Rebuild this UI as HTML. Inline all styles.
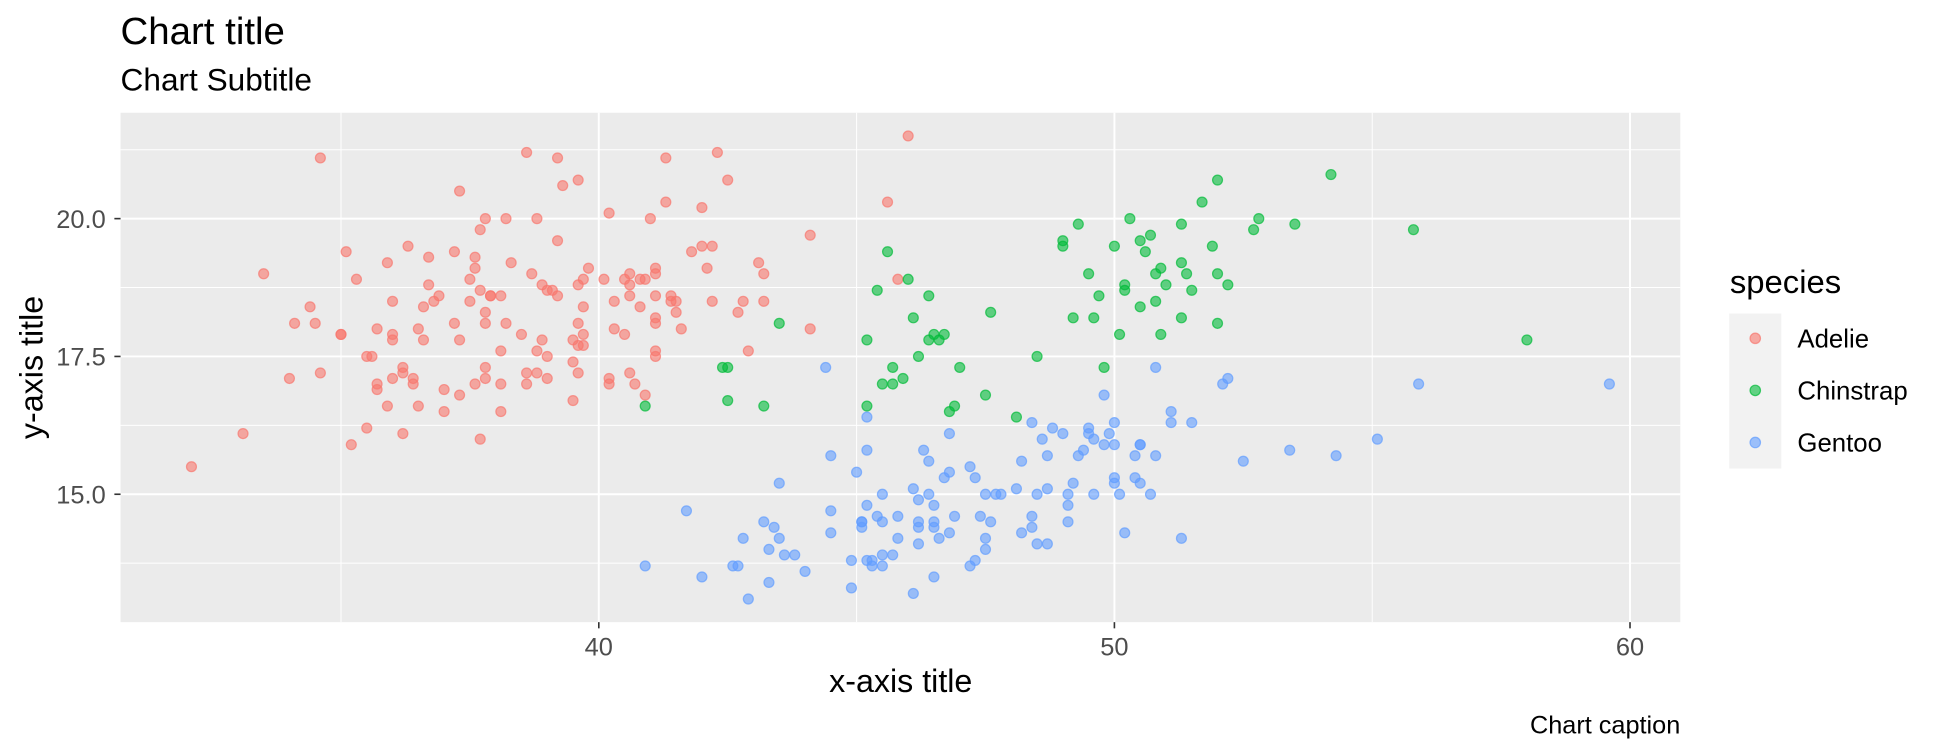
<!DOCTYPE html>
<html><head><meta charset="utf-8"><style>
html,body{margin:0;padding:0;background:#fff;}
svg{display:block;font-family:"Liberation Sans",sans-serif;}
</style></head><body>
<svg id="chart" width="1944" height="756" viewBox="0 0 1568 610" xmlns="http://www.w3.org/2000/svg">
<text x="97" y="35.5" font-size="31" fill="#000">Chart title</text>
<text x="97" y="73" font-size="25.5" fill="#000">Chart Subtitle</text>
<rect x="97" y="91" width="1258.5" height="411" fill="#ebebeb"/>
<g id="grid"></g>
<g id="points"></g>
<g id="axes"></g>
<text x="726.5" y="558.5" font-size="26" text-anchor="middle" fill="#000">x-axis title</text>
<text transform="translate(34,296.5) rotate(-90)" font-size="26" text-anchor="middle" fill="#000">y-axis title</text>
<text x="1355.5" y="592" font-size="20.4" text-anchor="end" fill="#000">Chart caption</text>
<g>
<text x="1395.5" y="236.5" font-size="26.5" fill="#000">species</text>
<rect x="1395" y="253" width="42" height="125" fill="#f2f2f2"/>
<g><circle cx="1416" cy="273" r="4.2" fill="#F8766D" fill-opacity="0.6" stroke="#F8766D" stroke-opacity="0.7"/><text x="1450" y="280.5" font-size="20.8">Adelie</text></g>
<g><circle cx="1416" cy="315" r="4.2" fill="#00BA38" fill-opacity="0.6" stroke="#00BA38" stroke-opacity="0.7"/><text x="1450" y="322.5" font-size="20.8">Chinstrap</text></g>
<g><circle cx="1416" cy="357" r="4.2" fill="#619CFF" fill-opacity="0.6" stroke="#619CFF" stroke-opacity="0.7"/><text x="1450" y="364.5" font-size="20.8">Gentoo</text></g>
</g>
</svg>
<script>
const adelieX=[39.1,39.5,40.3,36.7,39.3,38.9,39.2,34.1,42,37.8,37.8,41.1,38.6,34.6,36.6,38.7,42.5,34.4,46,37.8,37.7,35.9,38.2,38.8,35.3,40.6,40.5,37.9,40.5,39.5,37.2,39.5,40.9,36.4,39.2,38.8,42.2,37.6,39.8,36.5,40.8,36,44.1,37,39.6,41.1,37.5,36,42.3,39.6,40.1,35,42,34.5,41.4,39,40.6,36.5,37.6,35.7,41.3,37.6,41.1,36.4,41.6,35.5,41.1,35.9,41.8,33.5,39.7,39.6,45.8,35.5,42.8,40.9,37.2,36.2,42.1,34.6,42.9,36.7,35.1,37.3,41.3,36.3,36.9,38.3,38.9,35.7,41.1,34,39.6,36.2,40.8,38.1,40.3,33.1,43.2,35,41,37.7,37.8,37.9,39.7,38.6,38.2,38.1,43.2,38.1,45.6,39.7,42.2,39.6,42.7,38.6,37.3,35.7,41.1,36.2,37.7,40.2,41.4,35.2,40.6,38.8,41.5,39,44.1,38.5,43.1,36.8,37.5,38.1,41.1,35.6,40.2,37,39.7,40.2,40.6,32.1,40.7,37.3,39,39.2,36.6,36,37.8,36,41.5];
const adelieY=[18.7,17.4,18,19.3,20.6,17.8,19.6,18.1,20.2,17.1,17.3,17.6,21.2,21.1,17.8,19,20.7,18.4,21.5,18.3,18.7,19.2,18.1,17.2,18.9,18.6,17.9,18.6,18.9,16.7,18.1,17.8,18.9,17,21.1,20,18.5,19.3,19.1,18,18.4,18.5,19.7,16.9,18.8,19,18.9,17.9,21.2,17.7,18.9,17.9,19.5,18.1,18.6,17.5,18.8,16.6,19.1,16.9,21.1,17,18.2,17.1,18,16.2,19.1,16.6,19.4,19,18.4,17.2,18.9,17.5,18.5,16.8,19.4,16.1,19.1,17.2,17.6,18.8,19.4,17.8,20.3,19.5,18.6,19.2,18.8,18,18.1,17.1,18.1,17.3,18.9,18.6,18.5,16.1,18.5,17.9,20,16,20,18.6,18.9,17.2,20,17,19,16.5,20.3,17.7,19.5,20.7,18.3,17,20.5,17,18.6,17.2,19.8,17,18.5,15.9,19,17.6,18.3,17.1,18,17.9,19.2,18.5,18.5,17.6,17.5,17.5,20.1,16.5,17.9,17.1,17.2,15.5,17,16.8,18.7,18.6,18.4,17.8,18.1,17.1,18.5];
const chinstrapX=[46.5,50,51.3,45.4,52.7,45.2,46.1,51.3,46,51.3,46.6,51.7,47,52,45.9,50.5,50.3,58,46.4,49.2,42.4,48.5,43.2,50.6,46.7,52,50.5,49.5,46.4,52.8,40.9,54.2,42.5,51,49.7,47.5,47.6,52,46.9,53.5,49,46.2,50.9,45.5,50.9,50.8,50.1,49,51.5,49.8,48.1,51.4,45.7,50.7,42.5,52.2,45.2,49.3,50.2,45.6,51.9,46.8,45.7,55.8,43.5,49.6,50.8,50.2];
const chinstrapY=[17.9,19.5,19.2,18.7,19.8,17.8,18.2,18.2,18.9,19.9,17.8,20.3,17.3,18.1,17.1,19.6,20,17.8,18.6,18.2,17.3,17.5,16.6,19.4,17.9,19,18.4,19,17.8,20,16.6,20.8,16.7,18.8,18.6,16.8,18.3,20.7,16.6,19.9,19.5,17.5,19.1,17,17.9,18.5,17.9,19.6,18.7,17.3,16.4,19,17.3,19.7,17.3,18.8,16.6,19.9,18.8,19.4,19.5,16.5,17,19.8,18.1,18.2,19,18.7];
const gentooX=[46.1,50,48.7,50,47.6,46.5,45.4,46.7,43.3,46.8,40.9,49,45.5,48.4,45.8,49.3,42,49.2,46.2,48.7,50.2,45.1,46.5,46.3,42.9,46.1,44.5,47.8,48.2,50,47.3,42.8,45.1,59.6,49.1,48.4,42.6,44.4,44,48.7,42.7,49.6,45.3,49.6,50.5,43.6,45.5,50.5,44.9,45.2,46.6,48.5,45.1,50.1,46.5,45,43.8,45.5,43.2,50.4,45.3,46.2,45.7,54.3,45.8,49.8,46.2,49.5,43.5,50.7,47.7,46.4,48.2,46.5,46.4,48.6,47.5,51.1,45.2,45.2,49.1,52.5,47.4,50,44.9,50.8,43.4,51.3,47.5,52.1,47.5,52.2,45.5,49.5,44.5,50.8,49.4,46.9,48.4,51.1,48.5,55.9,47.2,49.1,47.3,46.8,41.7,53.4,43.3,48.1,50.5,49.8,43.5,51.5,46.2,55.1,44.5,48.8,47.2,46.8,50.4,45.2,49.9];
const gentooY=[13.2,16.3,14.1,15.2,14.5,13.5,14.6,15.3,13.4,15.4,13.7,16.1,13.7,14.6,14.6,15.7,13.5,15.2,14.5,15.1,14.3,14.5,14.5,15.8,13.1,15.1,14.3,15,14.3,15.3,15.3,14.2,14.5,17,14.8,16.3,13.7,17.3,13.6,15.7,13.7,16,13.7,15,15.9,13.9,13.9,15.9,13.3,15.8,14.2,14.1,14.4,15,14.4,15.4,13.9,15,14.5,15.3,13.8,14.9,13.9,15.7,14.2,16.8,14.4,16.2,14.2,15,15,15.6,15.6,14.8,15,16,14.2,16.3,13.8,16.4,14.5,15.6,14.6,15.9,13.8,17.3,14.4,14.2,14,17,15,17.1,14.5,16.1,14.7,15.7,15.8,14.6,14.4,16.5,15,17,15.5,15,13.8,16.1,14.7,15.8,14,15.1,15.2,15.9,15.2,16.3,14.1,16,15.7,16.2,13.7,14.3,15.7,14.8,16.1];
const xTicks=[40,50,60];
const xTickLabels=["40","50","60"];
const yTicks=[15,17.5,20];
const yTickLabels=["15.0","17.5","20.0"];
const xMinor=[35,45,55];
const yMinor=[13.75,16.25,18.75,21.25];

const NS="http://www.w3.org/2000/svg";
const L=97,R=1355.5,T=91,B=502;
const allX=adelieX.concat(chinstrapX,gentooX), allY=adelieY.concat(chinstrapY,gentooY);
let xmn=Math.min(...allX),xmx=Math.max(...allX),ymn=Math.min(...allY),ymx=Math.max(...allY);
const xp=(xmx-xmn)*0.05, yp=(ymx-ymn)*0.05; xmn-=xp;xmx+=xp;ymn-=yp;ymx+=yp;
const sx=v=>L+(v-xmn)/(xmx-xmn)*(R-L);
const sy=v=>B-(v-ymn)/(ymx-ymn)*(B-T);
function mk(tag,attrs,parent){const e=document.createElementNS(NS,tag);for(const k in attrs)e.setAttribute(k,attrs[k]);parent.appendChild(e);return e;}
const grid=document.getElementById('grid'),axes=document.getElementById('axes'),pts=document.getElementById('points');
xMinor.forEach(v=>{if(sx(v)<L||sx(v)>R)return;const l=mk('line',{x1:sx(v),x2:sx(v),y1:T,y2:B,stroke:'#fff','stroke-width':0.8},grid);

});
yMinor.forEach(v=>{if(sy(v)<T||sy(v)>B)return;const l=mk('line',{x1:L,x2:R,y1:sy(v),y2:sy(v),stroke:'#fff','stroke-width':0.8},grid);

});
xTicks.forEach((v,i)=>{const l=mk('line',{x1:sx(v),x2:sx(v),y1:T,y2:B,stroke:'#fff','stroke-width':1.6},grid);


const t=mk('line',{x1:sx(v),x2:sx(v),y1:B,y2:B+5,stroke:'#333','stroke-width':1.3},axes);


const tx=mk('text',{x:sx(v),y:529,'font-size':20.5,fill:'#4d4d4d','text-anchor':'middle'},axes);tx.textContent=xTickLabels[i];

});
yTicks.forEach((v,i)=>{const l=mk('line',{x1:L,x2:R,y1:sy(v),y2:sy(v),stroke:'#fff','stroke-width':1.6},grid);


const t=mk('line',{x1:L-5,x2:L,y1:sy(v),y2:sy(v),stroke:'#333','stroke-width':1.3},axes);


const tx=mk('text',{x:L-12,y:sy(v)+7.5,'font-size':20.5,fill:'#4d4d4d','text-anchor':'end'},axes);tx.textContent=yTickLabels[i];

});
function series(xs,ys,col,name){xs.forEach((x,i)=>{const c=mk('circle',{cx:sx(x),cy:sy(ys[i]),r:4,fill:col,'fill-opacity':0.6,stroke:col,'stroke-opacity':0.7,'stroke-width':1},pts);

});}
series(adelieX,adelieY,'#F8766D','point-adelie');
series(chinstrapX,chinstrapY,'#00BA38','point-chinstrap');
series(gentooX,gentooY,'#619CFF','point-gentoo');
</script>
</body></html>
